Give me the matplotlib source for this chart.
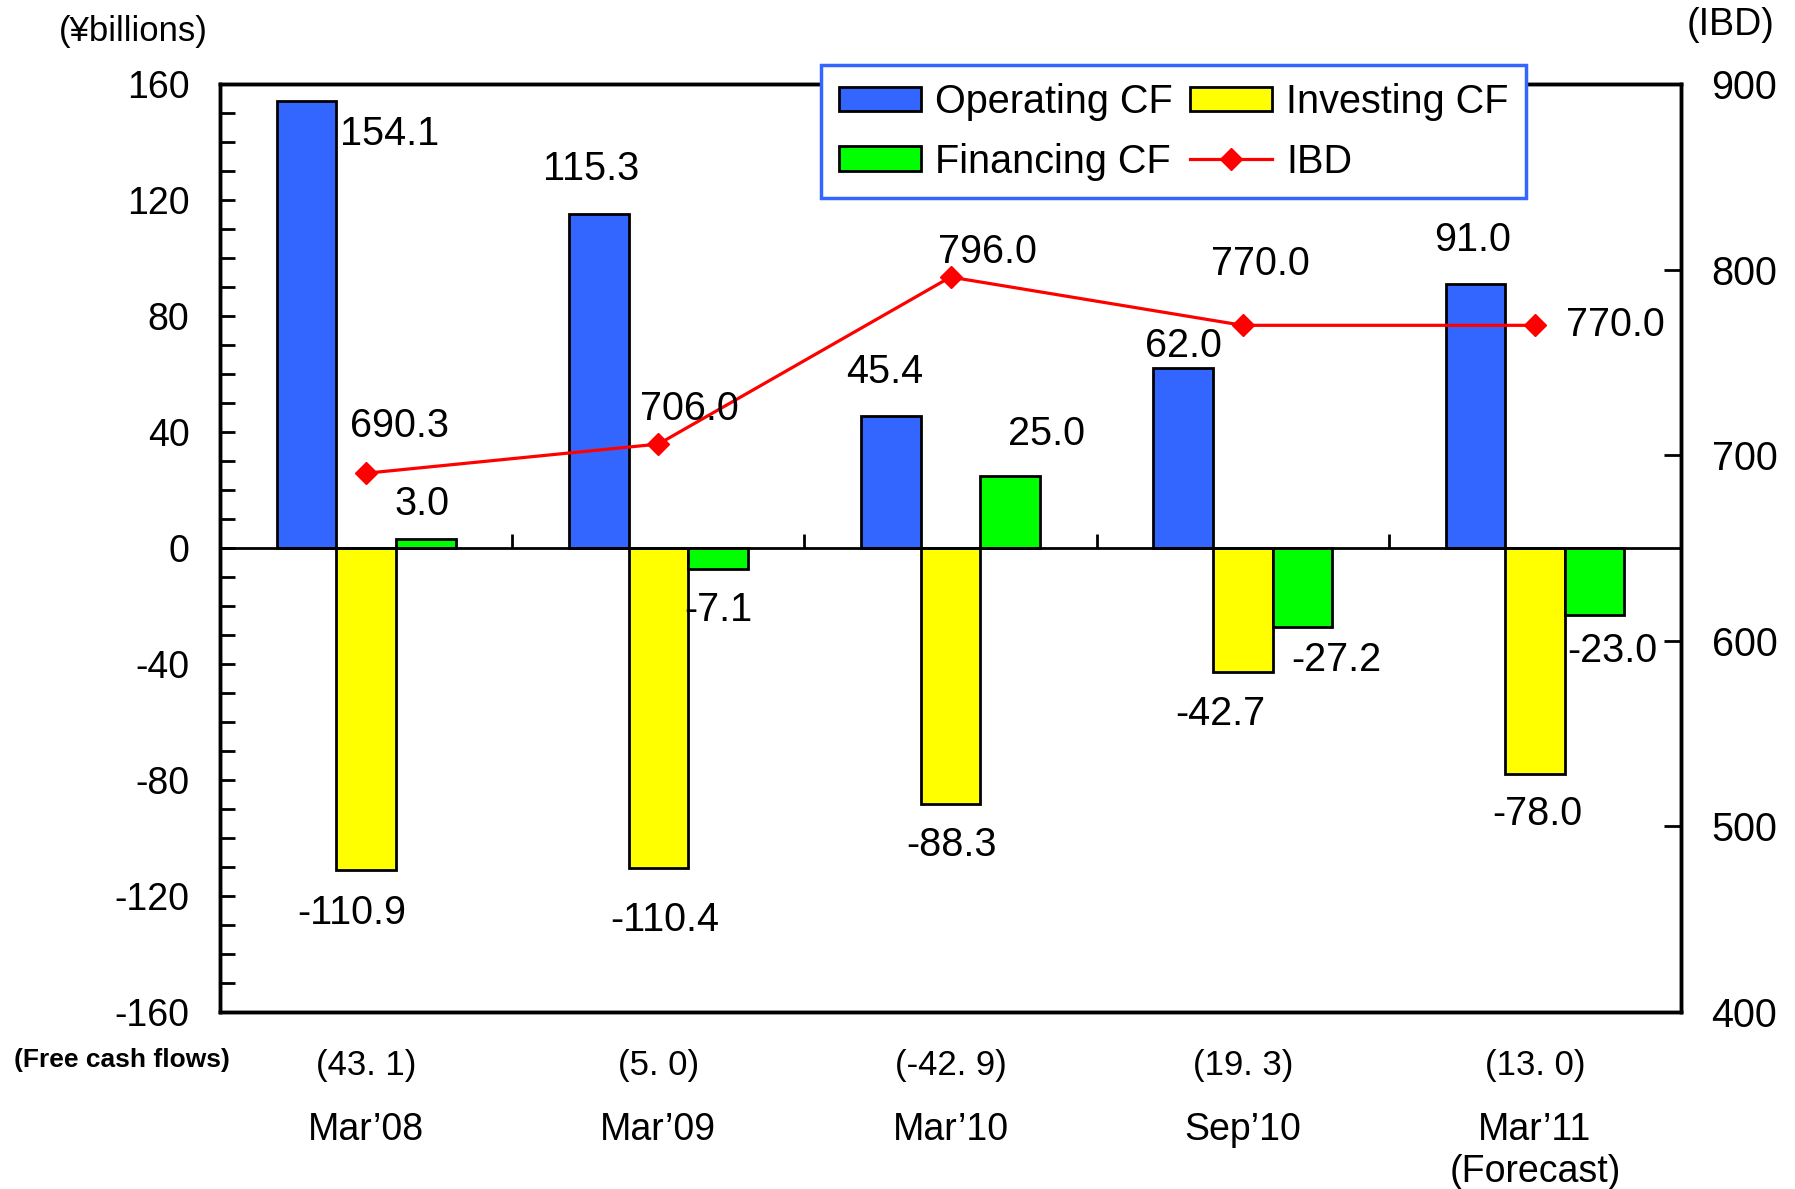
import numpy as np
import matplotlib.pyplot as plt
import matplotlib.transforms as mtransforms

plt.rcParams['font.family'] = ['Liberation Sans', 'DejaVu Sans']
plt.rcParams['axes.unicode_minus'] = False

# ------------------------------------------------------------
# data (¥ billions)
# ------------------------------------------------------------
periods = ["Mar’08", "Mar’09", "Mar’10", "Sep’10", "Mar’11\n(Forecast)"]
free_cf = ["(43. 1)", "(5. 0)", "(-42. 9)", "(19. 3)", "(13. 0)"]
operating_cf = [154.1, 115.3, 45.4, 62.0, 91.0]
investing_cf = [-110.9, -110.4, -88.3, -42.7, -78.0]
financing_cf = [3.0, -7.1, 25.0, -27.2, -23.0]
ibd = [690.3, 706.0, 796.0, 770.0, 770.0]

# label offsets in pixels (dx, dy) from the end of each bar / marker
op_off = [(83, -33), (-8, 45), (-6, 44), (0, 22), (-3, 44)]
inv_off = [(-14, -43), (6, -52), (1, -41), (-22, -42), (2, -40)]
fin_off = [(-4, 35), (0, -41), (36, 42), (34, -33), (18, -36)]
ibd_off = [(33, 47), (31, 35), (37, 25), (18, 61), (80, 0)]

BLUE = "#3366ff"
YELLOW = "#ffff00"
GREEN = "#00ff00"
RED = "#ff0000"
FS = 27
LABEL_FS = 28.5

fig = plt.figure(figsize=(17.95, 11.89), dpi=100)
ax = fig.add_axes([0.1226, 0.1489, 0.8139, 0.7804])
ax2 = ax.twinx()

x = np.arange(len(periods))
w = 0.204

b_op = ax.bar(x - w, operating_cf, w, color=BLUE, edgecolor="black", lw=2, label="Operating CF", zorder=3)
b_inv = ax.bar(x, investing_cf, w, color=YELLOW, edgecolor="black", lw=2, label="Investing CF", zorder=3)
b_fin = ax.bar(x + w, financing_cf, w, color=GREEN, edgecolor="black", lw=2, label="Financing CF", zorder=3)
l_ibd, = ax2.plot(x, ibd, color=RED, lw=2.3, marker="D", ms=11, label="IBD")

for vals, offs, shift in [(operating_cf, op_off, -w), (investing_cf, inv_off, 0), (financing_cf, fin_off, w)]:
    for i, (v, (dx, dy)) in enumerate(zip(vals, offs)):
        ax.annotate(f"{v:.1f}", xy=(i + shift, v), xytext=(dx, dy), textcoords="offset pixels",
                    ha="center", va="center", fontsize=LABEL_FS, zorder=5)
for i, (v, (dx, dy)) in enumerate(zip(ibd, ibd_off)):
    ax2.annotate(f"{v:.1f}", xy=(i, v), xytext=(dx, dy), textcoords="offset pixels",
                 ha="center", va="center", fontsize=LABEL_FS)

# zero line and category separators
ax.axhline(0, color="black", lw=2, zorder=4)
ax.vlines(x[:-1] + 0.5, 0, 4.8, color="black", lw=2, zorder=4)

ax.set_xlim(-0.5, len(periods) - 0.5)
ax.set_ylim(-160, 160)
ax.set_yticks(np.arange(-160, 161, 40))
ax.set_yticks(np.arange(-160, 161, 10), minor=True)
ax.set_xticks([])
ax.tick_params(axis="y", which="both", direction="in", length=11, width=2, labelsize=FS, pad=22)

ax2.set_ylim(400, 900)
ax2.set_yticks(np.arange(400, 901, 100))
ax2.tick_params(axis="y", direction="in", length=12, width=2, labelsize=28.5, pad=22)

for a in (ax, ax2):
    for s in a.spines.values():
        s.set_linewidth(2.5)

# category labels under the plot
trans = mtransforms.blended_transform_factory(ax.transData, fig.transFigure)
for i in x:
    ax.text(i, 1 - 1066 / 1189, free_cf[i], transform=trans, ha="center", va="center",
            fontsize=25, family=["Liberation Sans Narrow", "Liberation Sans"])
    ax.text(i, 1 - 1112 / 1189, periods[i], transform=trans, ha="center", va="top",
            fontsize=27, linespacing=1.2)

fig.text(14 / 1795, 1 - 1060 / 1189, "(Free cash flows)", ha="left", va="center",
         fontsize=19, fontweight="bold", family=["Liberation Sans Narrow", "Liberation Sans"])
fig.text(133 / 1795, 1 - 32 / 1189, "(¥billions)", ha="center", va="center", fontsize=25)
fig.text(1731 / 1795, 1 - 25 / 1189, "(IBD)", ha="center", va="center", fontsize=FS)

# matplotlib fills legend columns first, so order the handles to read row by row
leg = fig.legend([b_op, b_fin, b_inv, l_ibd], ["Operating CF", "Financing CF", "Investing CF", "IBD"],
                 ncol=2, loc="upper left", bbox_to_anchor=(821 / 1795, 1 - 65 / 1189),
                 borderaxespad=0, fontsize=LABEL_FS, fancybox=False, framealpha=1, edgecolor=BLUE,
                 handlelength=2.07, handleheight=0.58, handletextpad=0.35, columnspacing=0.45,
                 borderpad=0.45, labelspacing=0.55)
leg.get_frame().set_linewidth(2.5)

fig.savefig("out.png", dpi=100)
